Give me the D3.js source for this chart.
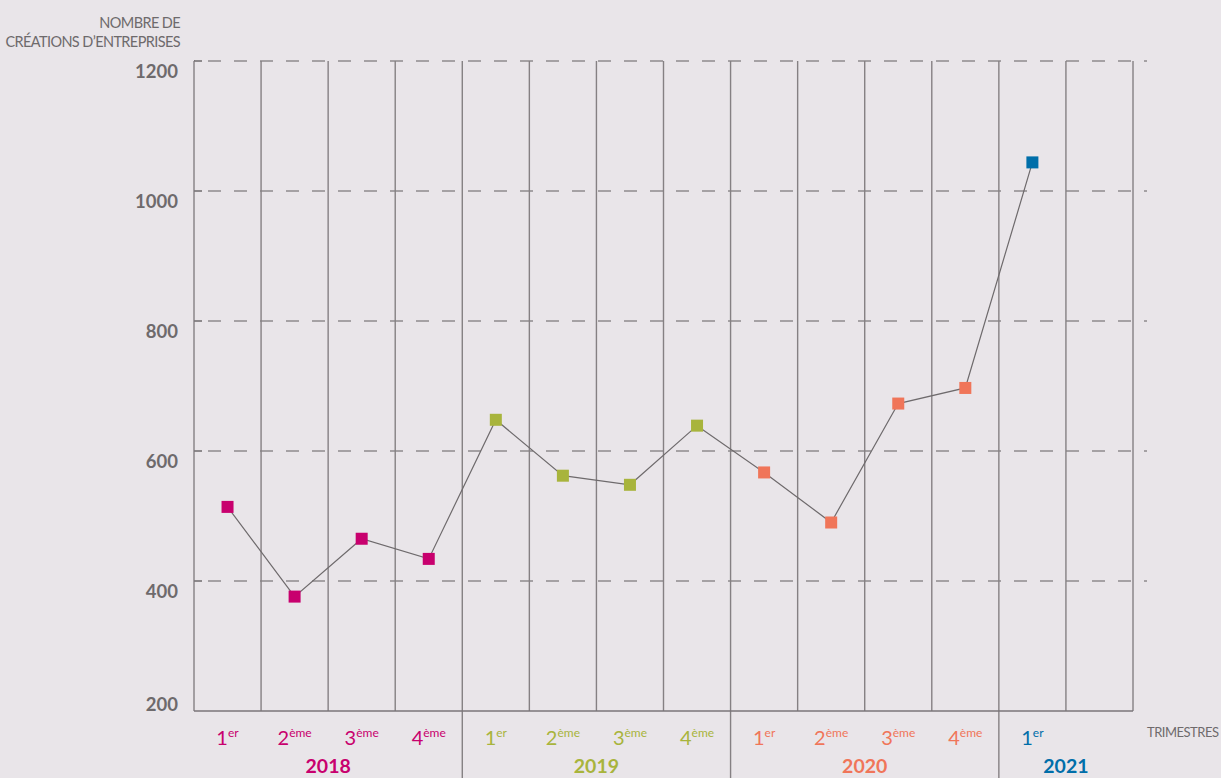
<!DOCTYPE html>
<html>
<head>
<meta charset="utf-8">
<script src="https://cdn.jsdelivr.net/npm/d3@7"></script>
<style>
  body { margin: 0; background: #e9e5e9; }
  svg { display: block; }
</style>
</head>
<body>
<svg id="chart"></svg>
<script>
// chart data
const years = ["2018", "2019", "2020", "2021"];
const yearColors = ["#c8006e", "#a8b43c", "#f07559", "#006ea9"];
const yearStart = [0, 4, 8, 12];
const yearEnd = [4, 8, 12, 14];
const quarterNums = ["1", "2", "3", "4", "1", "2", "3", "4", "1", "2", "3", "4", "1"];
const quarterSups = ["er", "ème", "ème", "ème", "er", "ème", "ème", "ème", "er", "ème", "ème", "ème", "er"];
const quarterYear = [0, 0, 0, 0, 1, 1, 1, 1, 2, 2, 2, 2, 3];
const values = [514, 376, 465, 434, 648, 562, 548, 639, 567, 490, 673, 697, 1044];
const yTicks = [200, 400, 600, 800, 1000, 1200];
const nColumns = 14;

const width = 1221, height = 778;
const plot = {left: 194, right: 1133, top: 61, bottom: 711};
const gridColor = "#858083";
const textColor = "#6e6a6c";

const svg = d3.select("#chart")
    .attr("width", width)
    .attr("height", height);

svg.append("rect")
    .attr("width", width)
    .attr("height", height)
    .attr("fill", "#e9e5e9");

const x = d3.scaleLinear().domain([0, nColumns]).range([plot.left, plot.right]);
const y = d3.scaleLinear().domain([200, 1200]).range([plot.bottom, plot.top]);

// horizontal dashed grid
svg.selectAll(".hgrid")
    .data(yTicks.filter(d => d > 200))
    .enter().append("line")
    .attr("x1", plot.left)
    .attr("x2", plot.right + 14)
    .attr("y1", d => y(d))
    .attr("y2", d => y(d))
    .attr("stroke", "#8f8a8d")
    .attr("stroke-width", 1.3)
    .attr("stroke-dasharray", "13,13")
    .attr("stroke-dashoffset", -14);

// small solid ticks on the y axis
svg.selectAll(".ytick")
    .data(yTicks.filter(d => d > 200))
    .enter().append("line")
    .attr("x1", plot.left)
    .attr("x2", plot.left + 8)
    .attr("y1", d => y(d))
    .attr("y2", d => y(d))
    .attr("stroke", "#6e6a6c")
    .attr("stroke-width", 1.5);

// vertical grid lines
svg.selectAll(".vgrid")
    .data(d3.range(nColumns + 1))
    .enter().append("line")
    .attr("x1", d => x(d))
    .attr("x2", d => x(d))
    .attr("y1", plot.top)
    .attr("y2", plot.bottom)
    .attr("stroke", gridColor)
    .attr("stroke-width", 1.4);

// year separators below the axis
svg.selectAll(".ysep")
    .data(yearStart.slice(1))
    .enter().append("line")
    .attr("x1", d => x(d))
    .attr("x2", d => x(d))
    .attr("y1", plot.bottom)
    .attr("y2", height)
    .attr("stroke", gridColor)
    .attr("stroke-width", 1.4);

// bottom axis
svg.append("line")
    .attr("x1", plot.left)
    .attr("x2", plot.right)
    .attr("y1", plot.bottom)
    .attr("y2", plot.bottom)
    .attr("stroke", "#7a7578")
    .attr("stroke-width", 1.6);

// y labels (the lowest one sits on the axis)
svg.selectAll(".ylabel")
    .data(yTicks)
    .enter().append("text")
    .attr("x", 178)
    .attr("y", d => Math.min(y(d) + 17, plot.bottom))
    .attr("text-anchor", "end")
    .attr("font-family", "Lato, sans-serif")
    .attr("font-weight", 700)
    .attr("font-size", 18.5)
    .attr("fill", textColor)
    .text(d => d);

// axis titles
const ytitle = svg.append("text")
    .attr("text-anchor", "end")
    .attr("font-family", "Lato, sans-serif")
    .attr("font-size", 14.5)
    .attr("fill", textColor)
    .attr("letter-spacing", -0.6);
ytitle.append("tspan").attr("x", 180).attr("y", 28).text("NOMBRE DE");
ytitle.append("tspan").attr("x", 180).attr("y", 47).text("CRÉATIONS D’ENTREPRISES");

svg.append("text")
    .attr("x", 1147)
    .attr("y", 737)
    .attr("font-family", "Lato, sans-serif")
    .attr("font-size", 13)
    .attr("letter-spacing", -0.5)
    .attr("fill", textColor)
    .text("TRIMESTRES");

// quarter labels
const ql = svg.selectAll(".qlabel")
    .data(values)
    .enter().append("text")
    .attr("x", (d, i) => x(i + 0.5))
    .attr("y", 745)
    .attr("text-anchor", "middle")
    .attr("font-family", "Lato, sans-serif")
    .attr("font-weight", 400)
    .attr("fill", (d, i) => yearColors[quarterYear[i]]);
ql.append("tspan")
    .attr("font-size", 20)
    .text((d, i) => quarterNums[i]);
ql.append("tspan")
    .attr("font-size", 12)
    .attr("dy", -8)
    .text((d, i) => quarterSups[i]);

// year labels
svg.selectAll(".yearlabel")
    .data(years)
    .enter().append("text")
    .attr("x", (d, i) => x((yearStart[i] + yearEnd[i]) / 2))
    .attr("y", 773)
    .attr("text-anchor", "middle")
    .attr("font-family", "Lato, sans-serif")
    .attr("font-weight", 700)
    .attr("font-size", 19.5)
    .attr("fill", (d, i) => yearColors[i])
    .text(d => d);

// line
const line = d3.line()
    .x((d, i) => x(i + 0.5))
    .y(d => y(d));

svg.append("path")
    .datum(values)
    .attr("d", line)
    .attr("fill", "none")
    .attr("stroke", "#6e6a6c")
    .attr("stroke-width", 1.2);

// markers
const size = 12;
svg.selectAll(".marker")
    .data(values)
    .enter().append("rect")
    .attr("x", (d, i) => x(i + 0.5) - size / 2)
    .attr("y", d => y(d) - size / 2)
    .attr("width", size)
    .attr("height", size)
    .attr("fill", (d, i) => yearColors[quarterYear[i]]);
</script>
</body>
</html>
